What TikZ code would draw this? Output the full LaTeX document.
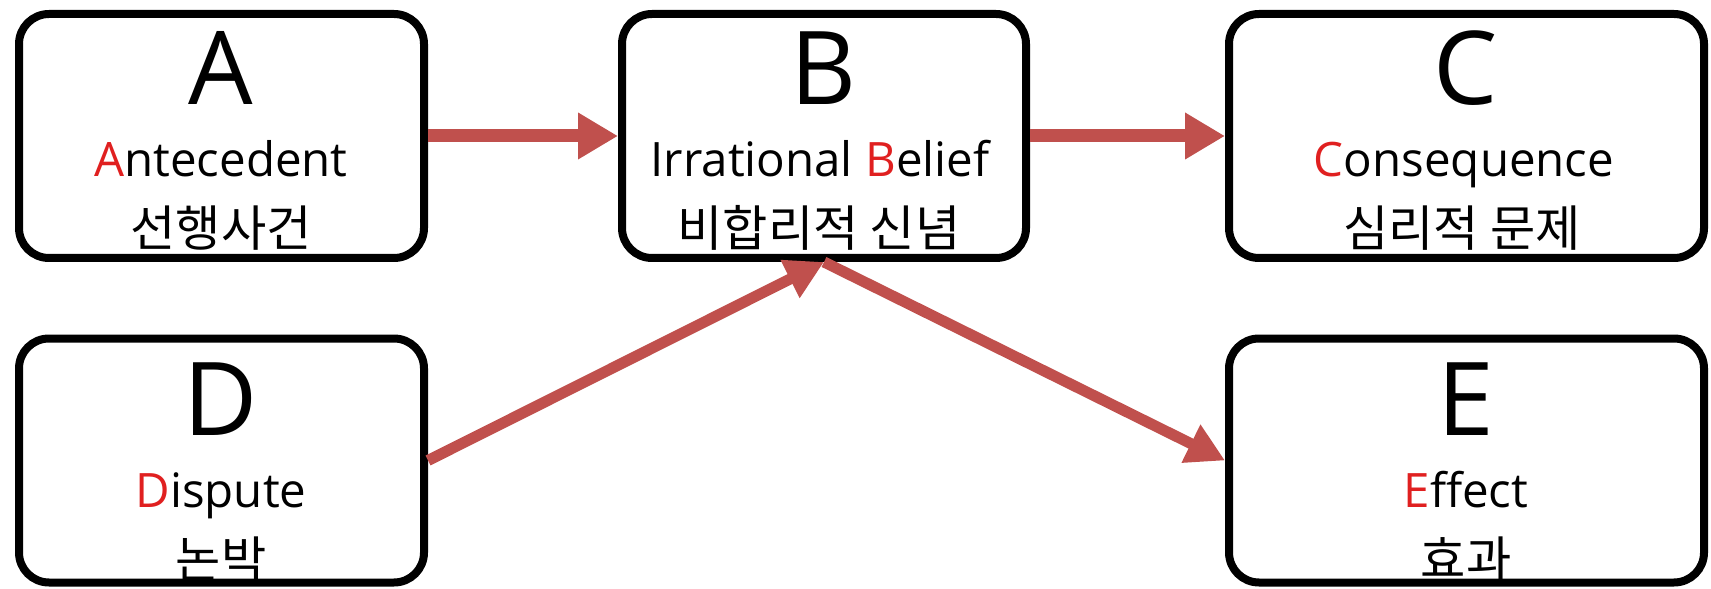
\documentclass[tikz,border=0pt]{standalone}
\usepackage{fontspec}
\setsansfont{Open Sans}
\newfontfamily\kr{Noto Sans CJK KR}
\usetikzlibrary{positioning,arrows.meta}
\definecolor{linkred}{RGB}{192,80,77}
\definecolor{markred}{RGB}{224,32,32}

\begin{document}
\begin{tikzpicture}[
  x=0.1mm, y=-0.1mm,
  font=\sffamily,
  card/.style={draw, rounded corners=3mm, line width=0.8mm, minimum height=24.4mm,
               inner sep=0pt},
  letter/.style={anchor=base, font=\sffamily\fontsize{29}{32}\selectfont},
  word/.style={anchor=base, font=\sffamily\fontsize{13.5}{16}\selectfont},
  hangul/.style={anchor=base, font=\kr\fontsize{14}{16}\selectfont},
  link/.style={-{Triangle[length=4mm, width=4.4mm]}, line width=1.3mm, linkred},
  slant/.style={-{Triangle[length=3.8mm, width=4mm]}, line width=1.1mm, linkred},
]
  \useasboundingbox (0,0) rectangle (1711,589);

  % top row
  \node[card, minimum width=40.5mm] (A) at (221.5,136) {};
  \node[card, minimum width=40.4mm] (B) at (824,136) {};
  \node[card, minimum width=47.5mm] (C) at (1466.5,136) {};
  % bottom row
  \node[card, minimum width=40.5mm] (D) at (221.5,460.5) {};
  \node[card, minimum width=47.5mm] (E) at (1466.5,460.5) {};

  \node[letter] (Aletter) at (221,105) {A};
  \node[word]   (Aword)   at (221,177) {\textcolor{markred}{A}ntecedent};
  \node[hangul] (Ahangul) at (221,247) {선행사건};

  \node[letter] (Bletter) at (824,105) {B};
  \node[word]   (Bword)   at (820,177) {Irrational \textcolor{markred}{B}elief};
  \node[hangul] (Bhangul) at (819,247) {비합리적 신념};

  \node[letter] (Cletter) at (1466,105) {C};
  \node[word]   (Cword)   at (1464,177) {\textcolor{markred}{C}onsequence};
  \node[hangul] (Changul) at (1462,247) {심리적 문제};

  \node[letter] (Dletter) at (221,435) {D};
  \node[word]   (Dword)   at (221,507) {\textcolor{markred}{D}ispute};
  \node[hangul] (Dhangul) at (221,577) {논박};

  \node[letter] (Eletter) at (1466,435) {E};
  \node[word]   (Eword)   at (1466,507) {\textcolor{markred}{E}ffect};
  \node[hangul] (Ehangul) at (1466,577) {효과};

  % connectors
  \draw[link] (A.east) -- (B.west);
  \draw[link] (B.east) -- (C.west);
  \draw[slant] (D.east) -- (B.south);
  \draw[slant] (B.south) -- (E.west);
\end{tikzpicture}
\end{document}
